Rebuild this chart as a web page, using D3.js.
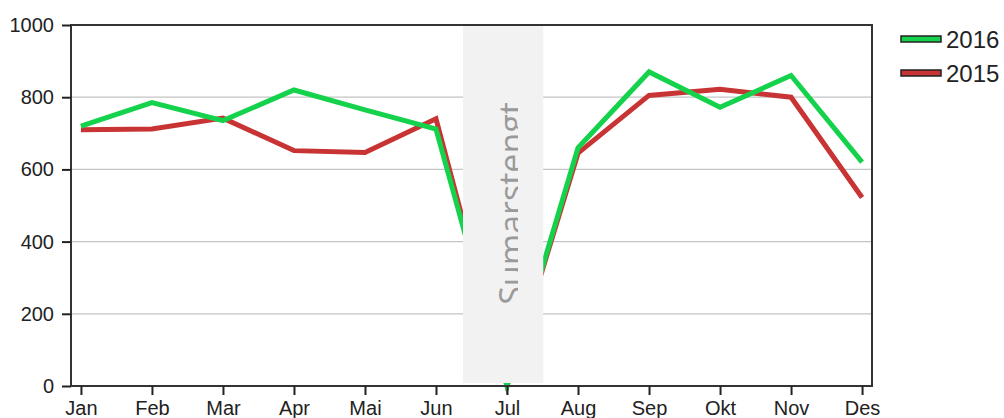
<!DOCTYPE html>
<html>
<head>
<meta charset="utf-8">
<script src="https://cdn.jsdelivr.net/npm/d3@7"></script>
<style>
  body { margin: 0; background: #fff; }
  svg { display: block; font-family: "Liberation Sans", Arial, sans-serif; }
</style>
</head>
<body>
<div id="chart"></div>
<script>
const months = ["Jan", "Feb", "Mar", "Apr", "Mai", "Jun", "Jul", "Aug", "Sep", "Okt", "Nov", "Des"];
const values2016 = [720, 785, 735, 820, 765, 712, 0, 660, 870, 772, 860, 620];
const values2015 = [710, 712, 742, 652, 647, 740, 0, 645, 805, 822, 800, 522];
const yTicks = [0, 200, 400, 600, 800, 1000];
const series = [
    { name: "2015", values: values2015, color: "#c83434" },
    { name: "2016", values: values2016, color: "#14d24c" }
];
const closedMonth = "Jul";
const closedLabel = "Sumarstengt";

const margin = { top: 25, right: 132, bottom: 32, left: 71 };
const W = 1004, H = 418;
const width = W - margin.left - margin.right;
const height = H - margin.top - margin.bottom;

const svg = d3.select("#chart").append("svg")
    .attr("width", W)
    .attr("height", H);
const g = svg.append("g")
    .attr("transform", "translate(" + margin.left + "," + margin.top + ")");

const x = d3.scalePoint().domain(months).range([0, width]).padding(0.14);
const y = d3.scaleLinear().domain([0, 1000]).range([height, 0]);

// grid lines
g.selectAll(".grid")
    .data(yTicks.filter(d => d > 0 && d < 1000))
    .enter().append("line")
    .attr("x1", 0).attr("x2", width)
    .attr("y1", d => y(d)).attr("y2", d => y(d))
    .attr("stroke", "#c4c4c4").attr("stroke-width", 1.2);

// lines
const line = d3.line()
    .x((d, i) => x(months[i]))
    .y(d => y(d));
series.forEach(s => {
    g.append("path")
        .datum(s.values)
        .attr("fill", "none")
        .attr("stroke", s.color)
        .attr("stroke-width", 5)
        .attr("d", line);
});

// closed period box
const step = x.step();
const bx = x(closedMonth) - step * 0.62;
const bw = step * 1.13;
g.append("rect")
    .attr("x", bx).attr("y", 0)
    .attr("width", bw).attr("height", height - 3)
    .attr("fill", "#f2f2f2");
g.append("clipPath").attr("id", "clip-label")
    .append("rect")
    .attr("x", bx).attr("y", 0)
    .attr("width", 55).attr("height", height);
g.append("g")
    .attr("clip-path", "url(#clip-label)")
    .append("text")
    .attr("transform", "translate(" + (bx + 61) + "," + (height / 2 - 2) + ") rotate(-90)")
    .attr("text-anchor", "middle")
    .attr("fill", "#9a9a9a")
    .style("font-family", "'Open Sans', sans-serif")
    .style("font-size", "34px")
    .text(closedLabel);

// frame
g.append("rect")
    .attr("x", 0).attr("y", 0)
    .attr("width", width).attr("height", height)
    .attr("fill", "none")
    .attr("stroke", "#333").attr("stroke-width", 2);

// y axis
const yAxis = g.append("g")
    .call(d3.axisLeft(y).tickValues(yTicks).tickFormat(d3.format("d")).tickSize(9).tickPadding(8).tickSizeOuter(0));
yAxis.select(".domain").remove();
yAxis.selectAll("line").attr("stroke", "#222").attr("stroke-width", 2);
yAxis.selectAll("text").attr("fill", "#222").style("font-size", "20px");

// x axis
const xAxis = g.append("g")
    .attr("transform", "translate(0," + height + ")")
    .call(d3.axisBottom(x).tickSize(9).tickPadding(6).tickSizeOuter(0));
xAxis.select(".domain").remove();
xAxis.selectAll("line").attr("stroke", "#222").attr("stroke-width", 2);
xAxis.selectAll("text").attr("fill", "#222").style("font-size", "20px");

// legend
const legend = svg.append("g").attr("transform", "translate(901,39)");
[series[1], series[0]].forEach((s, i) => {
    const row = legend.append("g").attr("transform", "translate(0," + (i * 34) + ")");
    row.append("rect")
        .attr("x", 0).attr("y", -3)
        .attr("width", 40).attr("height", 6)
        .attr("fill", s.color)
        .attr("stroke", "#222").attr("stroke-width", 1.5);
    row.append("text")
        .attr("x", 45).attr("y", 9)
        .attr("fill", "#222")
        .style("font-size", "24px")
        .text(s.name);
});
</script>
</body>
</html>
